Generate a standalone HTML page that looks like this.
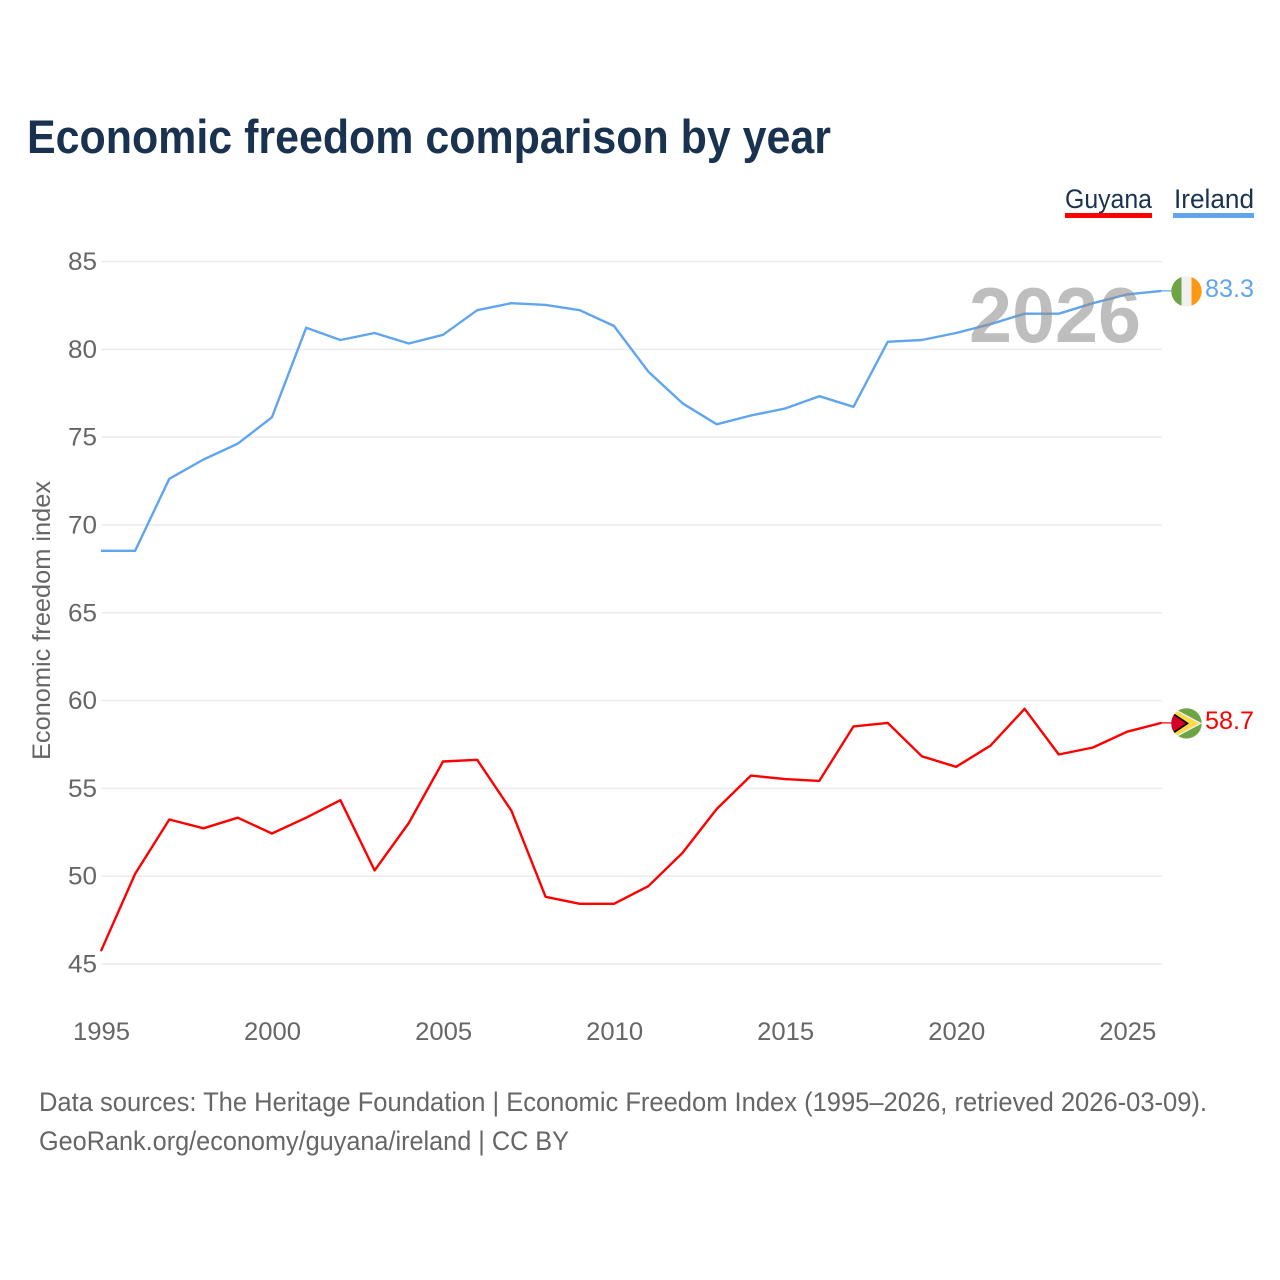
<!DOCTYPE html>
<html>
<head>
<meta charset="utf-8">
<style>
html,body{margin:0;padding:0;background:#fff;}
svg{display:block;font-family:"Liberation Sans",sans-serif;}
</style>
</head>
<body>
<svg id="chart" width="1280" height="1280" viewBox="0 0 1280 1280" xmlns="http://www.w3.org/2000/svg">
  <rect width="1280" height="1280" fill="#fff"/>
  <text x="27" y="153" font-size="47" font-weight="700" fill="#18324f" textLength="804" lengthAdjust="spacingAndGlyphs">Economic freedom comparison by year</text>
  <g>
    <text x="1065" y="208" font-size="27" fill="#18324f" textLength="87" lengthAdjust="spacingAndGlyphs">Guyana</text>
    <rect x="1065" y="213" width="87" height="5" fill="#ff0000"/>
  </g>
  <g>
    <text x="1174" y="208" font-size="27" fill="#18324f" textLength="80" lengthAdjust="spacingAndGlyphs">Ireland</text>
    <rect x="1173" y="213" width="81" height="5" fill="#60a5ee"/>
  </g>
  <g id="grid"></g>
  <g id="yticks"></g>
  <g id="xticks"></g>
  <text transform="translate(50,760) rotate(-90)" font-size="25" fill="#666" textLength="279" lengthAdjust="spacingAndGlyphs">Economic freedom index</text>
  <g id="series"></g>
  <text id="yearLabel" x="1055" y="342" text-anchor="middle" font-size="78" font-weight="700" fill="#8f8f8f" fill-opacity="0.58" textLength="172" lengthAdjust="spacingAndGlyphs">2026</text>
  <defs>
    <clipPath id="flagClipIreland"><circle id="clipIreland" cx="1186.5" cy="290" r="15.2"/></clipPath>
    <clipPath id="flagClipGuyana"><circle id="clipGuyana" cx="1186.5" cy="722" r="15.2"/></clipPath>
  </defs>
  <g id="flagIreland">
    <g clip-path="url(#flagClipIreland)">
      <rect id="irA" x="1171" width="10.5" height="32" fill="#6da544"/>
      <rect id="irB" x="1181.5" width="10" height="32" fill="#f0f0f0"/>
      <rect id="irC" x="1191.5" width="10.5" height="32" fill="#ff9811"/>
    </g>
  </g>
  <g id="flagGuyana">
    <g clip-path="url(#flagClipGuyana)">
      <g id="guInner">
        <rect x="1171" y="-16" width="32" height="32" fill="#6da544"/>
        <polygon points="1174,-15 1202,0 1174,15 1171,15 1171,-15" fill="#f0f0f0"/>
        <polygon points="1175,-13 1199,0 1175,13 1171,13 1171,-13" fill="#ffda44"/>
        <polygon points="1171,-12 1189,0 1171,12" fill="#000"/>
        <polygon points="1171,-10 1186,0 1171,10" fill="#d80027"/>
      </g>
    </g>
  </g>
  <text id="valIreland" x="1205" y="296" font-size="25" fill="#60a5ee" textLength="49" lengthAdjust="spacingAndGlyphs"></text>
  <text id="valGuyana" x="1205" y="729" font-size="25" fill="#ff0000" textLength="49" lengthAdjust="spacingAndGlyphs"></text>
  <text x="39" y="1111" font-size="27" fill="#666" textLength="1168" lengthAdjust="spacingAndGlyphs">Data sources: The Heritage Foundation | Economic Freedom Index (1995–2026, retrieved 2026-03-09).</text>
  <text x="39" y="1150" font-size="27" fill="#666" textLength="530" lengthAdjust="spacingAndGlyphs">GeoRank.org/economy/guyana/ireland | CC BY</text>
</svg>
<script>
const years = [1995,1996,1997,1998,1999,2000,2001,2002,2003,2004,2005,2006,2007,2008,2009,2010,2011,2012,2013,2014,2015,2016,2017,2018,2019,2020,2021,2022,2023,2024,2025,2026];
const guyanaValues = [45.7,50.1,53.2,52.7,53.3,52.4,53.3,54.3,50.3,53.0,56.5,56.6,53.7,48.8,48.4,48.4,49.4,51.3,53.8,55.7,55.5,55.4,58.5,58.7,56.8,56.2,57.4,59.5,56.9,57.3,58.2,58.7];
const irelandValues = [68.5,68.5,72.6,73.7,74.6,76.1,81.2,80.5,80.9,80.3,80.8,82.2,82.6,82.5,82.2,81.3,78.7,76.9,75.7,76.2,76.6,77.3,76.7,80.4,80.5,80.9,81.4,82.0,82.0,82.6,83.1,83.3];
const yTicks = [45,50,55,60,65,70,75,80,85];
const xTicks = [1995,2000,2005,2010,2015,2020,2025];

const NS = 'http://www.w3.org/2000/svg';
const xScale = v => 101.5 + (v - 1995) * (1162 - 101.5) / (2026 - 1995);
const yScale = v => 964 + (v - 45) * (261.5 - 964) / (85 - 45);

const make = (tag, parent) => {
  const el = document.createElementNS(NS, tag);
  parent.appendChild(el);
  return el;
};

const grid = document.getElementById('grid');
const yTickGroup = document.getElementById('yticks');
yTicks.forEach(t => {
  const line = make('line', grid);
  
  
  line.setAttribute('x1', 101.5);
  line.setAttribute('x2', 1162);
  line.setAttribute('y1', yScale(t));
  line.setAttribute('y2', yScale(t));
  line.setAttribute('stroke', '#ebebeb');
  line.setAttribute('stroke-width', '1.5');
  const label = make('text', yTickGroup);
  
  
  label.setAttribute('x', 97);
  label.setAttribute('y', yScale(t) + 8.5);
  label.setAttribute('text-anchor', 'end');
  label.setAttribute('font-size', '25');
  label.setAttribute('fill', '#666');
  label.setAttribute('textLength', '29');
  label.setAttribute('lengthAdjust', 'spacingAndGlyphs');
  label.textContent = t;
});

const xTickGroup = document.getElementById('xticks');
xTicks.forEach(t => {
  const label = make('text', xTickGroup);
  
  
  label.setAttribute('x', xScale(t));
  label.setAttribute('y', 1040);
  label.setAttribute('text-anchor', 'middle');
  label.setAttribute('font-size', '25');
  label.setAttribute('fill', '#666');
  label.setAttribute('textLength', '57');
  label.setAttribute('lengthAdjust', 'spacingAndGlyphs');
  label.textContent = t;
});

const seriesGroup = document.getElementById('series');
const drawSeries = (values, color, name) => {
  const path = make('path', seriesGroup);
  
  
  path.setAttribute('d', values.map((v, i) => (i ? 'L' : 'M') + (xScale(years[i]) - 0.6).toFixed(1) + ' ' + (yScale(v) - 0.5).toFixed(1)).join(' '));
  path.setAttribute('fill', 'none');
  path.setAttribute('stroke', color);
  path.setAttribute('stroke-width', '2.4');
  path.setAttribute('stroke-linejoin', 'round');
  const last = yScale(values[values.length - 1]);
  const leader = make('line', seriesGroup);
  
  
  leader.setAttribute('x1', 1161);
  leader.setAttribute('x2', 1172);
  leader.setAttribute('y1', last - 0.5);
  leader.setAttribute('y2', last - 0.5);
  leader.setAttribute('stroke', color);
  leader.setAttribute('stroke-width', '1.2');
  return last;
};
const lastGuyana = drawSeries(guyanaValues, '#ff0000', 'line-guyana');
const lastIreland = drawSeries(irelandValues, '#60a5ee', 'line-ireland');

document.getElementById('clipIreland').setAttribute('cy', lastIreland);
document.getElementById('clipGuyana').setAttribute('cy', lastGuyana);
['irA', 'irB', 'irC'].forEach(id => document.getElementById(id).setAttribute('y', lastIreland - 16));
document.getElementById('guInner').setAttribute('transform', 'translate(0,' + lastGuyana + ')');

const valIreland = document.getElementById('valIreland');
valIreland.textContent = irelandValues[irelandValues.length - 1].toFixed(1);
valIreland.setAttribute('y', lastIreland + 5.5);
const valGuyana = document.getElementById('valGuyana');
valGuyana.textContent = guyanaValues[guyanaValues.length - 1].toFixed(1);
valGuyana.setAttribute('y', lastGuyana + 5.5);
</script>
</body>
</html>
